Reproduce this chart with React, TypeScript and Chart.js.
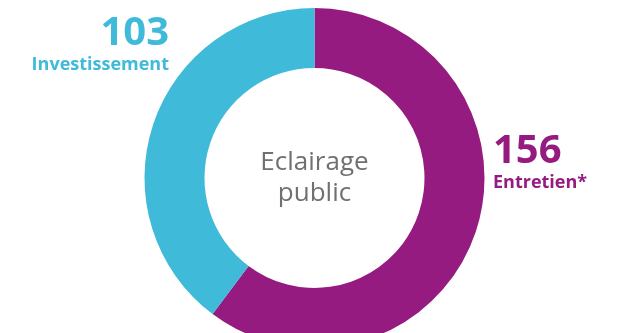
import React, { useEffect, useRef } from "react";
import { Chart, registerables } from "chart.js";

Chart.register(...registerables);

const categories = ["Entretien*", "Investissement"];
const values = [156, 103];
const colors = ["#951B80", "#3FBAD9"];
const centerLines = ["Eclairage", "public"];

const labelPlugin = {
  id: "labels",
  afterDraw(chart: any) {
    const ctx = chart.ctx;
    ctx.save();
    ctx.textBaseline = "alphabetic";
    // Investissement
    ctx.fillStyle = colors[1];
    ctx.textAlign = "right";
    ctx.font = "bold 40px 'Open Sans'";
    ctx.fillText(String(values[1]), 169, 45);
    ctx.font = "bold 18px 'Open Sans'";
    ctx.fillText(categories[1], 169, 70);
    // Entretien
    ctx.fillStyle = colors[0];
    ctx.textAlign = "left";
    ctx.font = "bold 40px 'Open Sans'";
    ctx.fillText(String(values[0]), 493, 163);
    ctx.font = "bold 18px 'Open Sans'";
    ctx.fillText(categories[0], 493, 188);
    // center
    ctx.fillStyle = "#707070";
    ctx.textAlign = "center";
    ctx.font = "26px 'Open Sans'";
    const area = chart.chartArea;
    const cx = (area.left + area.right) / 2;
    ctx.fillText(centerLines[0], cx, 170);
    ctx.fillText(centerLines[1], cx, 201);
    ctx.restore();
  },
};

export default function App() {
  const ref = useRef<HTMLCanvasElement>(null);
  useEffect(() => {
    document.body.style.margin = "0";
    document.body.style.overflow = "hidden";
    const chart = new Chart(ref.current!, {
      type: "doughnut",
      data: {
        labels: categories,
        datasets: [
          {
            data: values,
            backgroundColor: colors,
            borderWidth: 0,
          },
        ],
      },
      options: {
        animation: false,
        responsive: false,
        cutout: "64.7%",
        layout: { padding: { top: 8, bottom: 8, left: 10, right: 0 } },
        plugins: {
          legend: { display: false },
          tooltip: { enabled: false },
        },
      },
      plugins: [labelPlugin],
    });
    return () => chart.destroy();
  }, []);
  return (
    <div style={{ width: 619, height: 333, overflow: "hidden", position: "relative" }}>
      <canvas ref={ref} width={619} height={356} style={{ display: "block" }} />
    </div>
  );
}
